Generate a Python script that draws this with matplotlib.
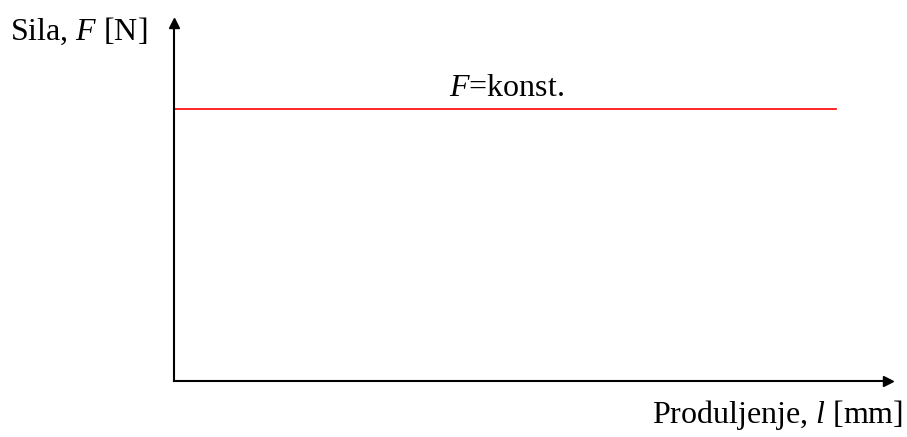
import numpy as np
import matplotlib.pyplot as plt

# F = konst. over the elongation range
produljenje = [0.0, 1.0]
sila = [1.0, 1.0]
ylabel = r'Sila, $F$ [N]'
xlabel = r'Produljenje, $l$ [mm]'
oznaka = r'$F$=konst.'

plt.rcParams['font.family'] = 'Liberation Serif'
plt.rcParams['mathtext.fontset'] = 'custom'
plt.rcParams['mathtext.rm'] = 'Liberation Serif'
plt.rcParams['mathtext.it'] = 'Liberation Serif:italic'

fig = plt.figure(figsize=(9.07, 4.37), dpi=100)
ax = fig.add_axes([174/907, 56/437, 714/907, 358/437])

ax.plot(produljenje, sila, color='red', lw=1.2)
ax.set_xlim(0, 1.079)
ax.set_ylim(0, 1.316)

# axes with arrow heads
for s in ['top', 'right']:
    ax.spines[s].set_visible(False)
for s in ['left', 'bottom']:
    ax.spines[s].set_linewidth(1.5)
ax.set_xticks([])
ax.set_yticks([])
ax.plot(1, 0, '>k', ms=7, transform=ax.transAxes, clip_on=False)
ax.plot(0, 1, '^k', ms=7, transform=ax.transAxes, clip_on=False)

fig.text(10/907, 1 - 31/437, ylabel, fontsize=23, ha='left', va='center')
fig.text(903/907, 1 - 415/437, xlabel, fontsize=23, ha='right', va='center')
ax.text(0.502, 1.077, oznaka, fontsize=23, ha='center', va='center')

fig.savefig('out.png', dpi=100)
